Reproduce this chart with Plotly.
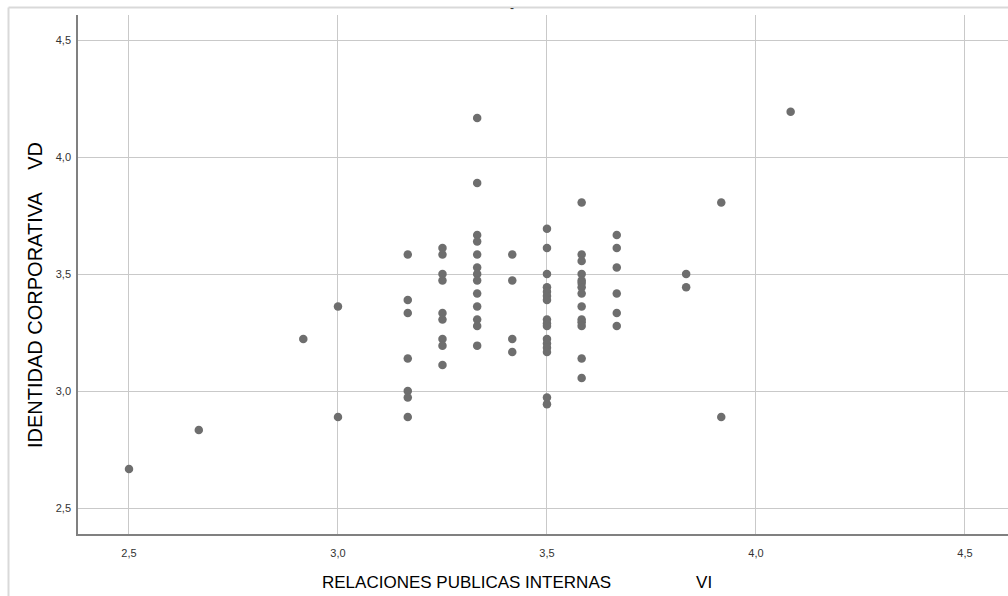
import plotly.graph_objects as go

# Scatter data: internal public relations score (VI) vs corporate identity score (VD)
rel_publicas = (
    [2.5]
    + [2.667]
    + [2.917]
    + [3.0] * 2
    + [3.167] * 7
    + [3.25] * 9
    + [3.333] * 13
    + [3.417] * 4
    + [3.5] * 16
    + [3.583] * 14
    + [3.667] * 6
    + [3.833] * 2
    + [3.917] * 2
    + [4.083]
)
identidad = (
    [2.667]
    + [2.833]
    + [3.222]
    + [3.361, 2.889]
    + [3.583, 3.389, 3.333, 3.139, 3.0, 2.972, 2.889]
    + [3.611, 3.583, 3.5, 3.472, 3.333, 3.306, 3.222, 3.194, 3.111]
    + [4.167, 3.889, 3.667, 3.639, 3.583, 3.528, 3.5, 3.472, 3.417, 3.361, 3.306, 3.278, 3.194]
    + [3.583, 3.472, 3.222, 3.167]
    + [3.694, 3.611, 3.5, 3.444, 3.424, 3.406, 3.389, 3.306, 3.289, 3.278, 3.222, 3.203, 3.185, 3.167, 2.972, 2.944]
    + [3.806, 3.583, 3.556, 3.5, 3.472, 3.462, 3.444, 3.417, 3.361, 3.306, 3.294, 3.278, 3.139, 3.056]
    + [3.667, 3.611, 3.528, 3.417, 3.333, 3.278]
    + [3.5, 3.444]
    + [3.806, 2.889]
    + [4.194]
)

tick_vals = [2.5, 3.0, 3.5, 4.0, 4.5]
tick_text = ["2,5", "3,0", "3,5", "4,0", "4,5"]

x_title = "RELACIONES PUBLICAS INTERNAS" + "\u00a0" * 18 + "VI"
y_title = "IDENTIDAD CORPORATIVA" + "\u00a0" * 4 + "VD"

W, H = 1008, 596
ML, MR, MT, MB = 78, 0, 15, 62
PW, PH = W - ML - MR, H - MT - MB
FONT = "Liberation Sans, Arial, sans-serif"


def px_x(p):
    return (p - ML) / PW


def px_y(p):
    return (H - MB - p) / PH


fig = go.Figure()
fig.add_trace(
    go.Scatter(
        x=rel_publicas,
        y=identidad,
        mode="markers",
        marker=dict(size=8.5, color="#6e6e6e", line=dict(width=0)),
        hoverinfo="x+y",
        showlegend=False,
    )
)

axis_common = dict(
    tickvals=tick_vals,
    ticktext=tick_text,
    showgrid=True,
    gridcolor="#c9c9c9",
    gridwidth=1,
    zeroline=False,
    showline=True,
    linecolor="#808080",
    linewidth=1.5,
    ticks="",
    tickfont=dict(family=FONT, size=11, color="#333333"),
)

fig.update_layout(
    width=W,
    height=H,
    margin=dict(l=ML, r=MR, t=MT, b=MB),
    paper_bgcolor="white",
    plot_bgcolor="white",
    xaxis=dict(range=[2.378, 4.603], ticklabelstandoff=8, **axis_common),
    yaxis=dict(range=[2.389, 4.607], ticklabelstandoff=3, **axis_common),
    annotations=[
        dict(
            text=x_title, xref="paper", yref="paper",
            x=px_x(517), y=px_y(582), xanchor="center", yanchor="middle",
            showarrow=False,
            font=dict(family=FONT, size=17, color="#000000"),
        ),
        dict(
            text=y_title, xref="paper", yref="paper",
            x=px_x(35), y=px_y(295), xanchor="center", yanchor="middle",
            textangle=-90, showarrow=False,
            font=dict(family=FONT, size=20, color="#000000"),
        ),
        dict(
            text="-", xref="paper", yref="paper",
            x=px_x(512), y=px_y(8), xanchor="center", yanchor="middle",
            showarrow=False,
            font=dict(family=FONT, size=12, color="#333333"),
        ),
    ],
    shapes=[
        # outer chart frame (top and left edges visible)
        dict(type="line", xref="paper", yref="paper",
             x0=px_x(8.5), x1=px_x(W + 5), y0=px_y(7.5), y1=px_y(7.5),
             line=dict(color="#d9d9d9", width=2)),
        dict(type="line", xref="paper", yref="paper",
             x0=px_x(8.5), x1=px_x(8.5), y0=px_y(7.5), y1=px_y(H + 5),
             line=dict(color="#d9d9d9", width=2)),
    ],
)

fig.write_html("out.html")
